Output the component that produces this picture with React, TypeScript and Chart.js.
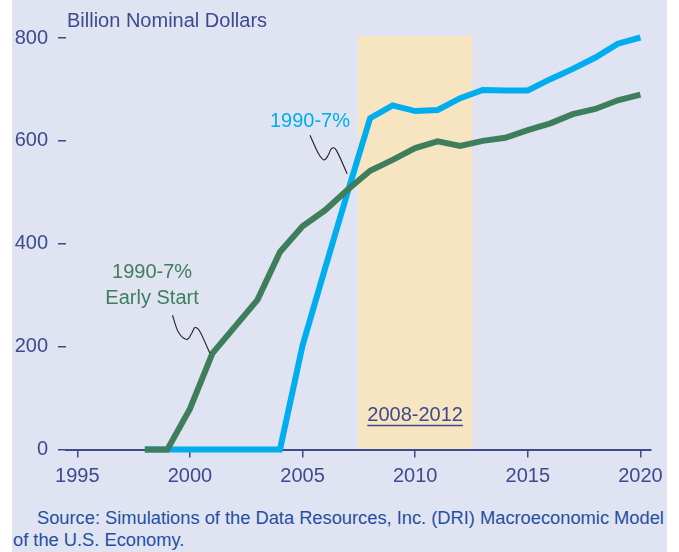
import React, { useEffect, useRef } from "react";
import { Chart, registerables } from "chart.js";

Chart.register(...registerables);

// ---- data ----
const years = [1998, 1999, 2000, 2001, 2002, 2003, 2004, 2005, 2006, 2007, 2008, 2009, 2010, 2011, 2012, 2013, 2014, 2015, 2016, 2017, 2018, 2019, 2020];
const onTime = [0, 0, 0, 0, 0, 0, 0, 202, 352, 500, 644, 669, 658, 660, 683, 699, 698, 698, 720, 740, 762, 789, 801];
const earlyStart = [0, 0, 79, 187, 239, 291, 384, 434, 465, 505, 542, 563, 586, 599, 590, 600, 606, 621, 634, 652, 662, 679, 690];
const xTicks = [1995, 2000, 2005, 2010, 2015, 2020];
const yTicks = [0, 200, 400, 600, 800];
const bandStart = 2007.47;
const bandEnd = 2012.53;
const bandTop = 804;
const bandLabel = "2008-2012";
const yTitle = "Billion Nominal Dollars";
const onTimeLabel = ["1990-7%"];
const earlyLabel = ["1990-7%", "Early Start"];
const onTimeNote = [[2005.33, 611], [2005.7, 576], [2005.95, 563], [2006.14, 572], [2006.29, 585], [2006.51, 581], [2006.98, 536]];
const earlyNote = [[1999.23, 261], [1999.48, 229], [1999.86, 214], [2000.08, 226], [2000.22, 237], [2000.45, 229], [2000.89, 187]];
const onTimeLabelAt = [2005.33, 638];
const earlyLabelAt = [1998.32, 345];
const bandLabelAt = [2010, 67];
const sourceLines = [
  "Source: Simulations of the Data Resources, Inc. (DRI) Macroeconomic Model",
  "of the U.S. Economy.",
];

const BLUE = "#00adef";
const GREEN = "#3e7e5d";
const NAVY = "#3d4a8e";
const BAND = "#f6e5c0";
const BG = "#e0e3f1";
const SRC = "#1f50a2";
const FONT = '"Liberation Sans", Arial, sans-serif';

function smoothPath(ctx: CanvasRenderingContext2D, pts: number[][]) {
  ctx.moveTo(pts[0][0], pts[0][1]);
  for (let i = 0; i < pts.length - 1; i++) {
    const p0 = pts[Math.max(0, i - 1)];
    const p1 = pts[i];
    const p2 = pts[i + 1];
    const p3 = pts[Math.min(pts.length - 1, i + 2)];
    const c1x = p1[0] + (p2[0] - p0[0]) / 6;
    const c1y = p1[1] + (p2[1] - p0[1]) / 6;
    const c2x = p2[0] - (p3[0] - p1[0]) / 6;
    const c2y = p2[1] - (p3[1] - p1[1]) / 6;
    ctx.bezierCurveTo(c1x, c1y, c2x, c2y, p2[0], p2[1]);
  }
}

const annotPlugin = {
  id: "annot",
  beforeDraw(chart: any) {
    const { ctx, scales } = chart;
    const x = scales.x, y = scales.y;
    ctx.save();
    ctx.fillStyle = BAND;
    const l = x.getPixelForValue(bandStart);
    const r = x.getPixelForValue(bandEnd);
    const t = y.getPixelForValue(bandTop);
    const b = y.getPixelForValue(0);
    ctx.fillRect(l, t, r - l, b - t);
    ctx.restore();
  },
  afterDatasetsDraw(chart: any) {
    const { ctx, scales } = chart;
    const x = scales.x, y = scales.y;
    const px = (p: number[]) => [x.getPixelForValue(p[0]), y.getPixelForValue(p[1])];
    ctx.save();
    ctx.strokeStyle = "#222";
    ctx.lineWidth = 1.1;
    for (const note of [onTimeNote, earlyNote]) {
      ctx.beginPath();
      smoothPath(ctx, note.map(px));
      ctx.stroke();
    }
    ctx.font = `20px ${FONT}`;
    ctx.textAlign = "center";
    ctx.textBaseline = "middle";
    ctx.fillStyle = BLUE;
    const a = px(onTimeLabelAt);
    onTimeLabel.forEach((s, i) => ctx.fillText(s, a[0], a[1] + i * 26));
    ctx.fillStyle = GREEN;
    const g = px(earlyLabelAt);
    earlyLabel.forEach((s, i) => ctx.fillText(s, g[0], g[1] + i * 26));
    // band label with underline
    ctx.fillStyle = NAVY;
    const bl = px(bandLabelAt);
    ctx.fillText(bandLabel, bl[0], bl[1]);
    const w = ctx.measureText(bandLabel).width;
    ctx.strokeStyle = NAVY;
    ctx.lineWidth = 1.5;
    ctx.beginPath();
    ctx.moveTo(bl[0] - w / 2, bl[1] + 10.5);
    ctx.lineTo(bl[0] + w / 2, bl[1] + 10.5);
    ctx.stroke();
    ctx.restore();
  },
};

export default function App() {
  const ref = useRef<HTMLCanvasElement>(null);
  useEffect(() => {
    const chart = new Chart(ref.current as HTMLCanvasElement, {
      type: "line",
      data: {
        datasets: [
          {
            label: "1990-7%",
            data: years.map((yr, i) => ({ x: yr, y: onTime[i] })),
            borderColor: BLUE,
            backgroundColor: BLUE,
            borderWidth: 6,
            pointRadius: 0,
            tension: 0,
            order: 1,
            clip: false,
          },
          {
            label: "1990-7% Early Start",
            data: years.map((yr, i) => ({ x: yr, y: earlyStart[i] })),
            borderColor: GREEN,
            backgroundColor: GREEN,
            borderWidth: 6,
            pointRadius: 0,
            tension: 0,
            order: 0,
            clip: false,
          },
        ],
      },
      options: {
        responsive: false,
        animation: false,
        layout: { padding: { top: 38, right: 28, left: 0, bottom: 0 } },
        plugins: { legend: { display: false }, tooltip: { enabled: false }, title: { display: false } },
        scales: {
          x: {
            type: "linear",
            min: 1994.5,
            max: 2020.47,
            afterBuildTicks: (s: any) => { s.ticks = xTicks.map((v) => ({ value: v })); },
            afterFit: (s: any) => { s.height = 50.5; },
            ticks: { color: NAVY, font: { family: FONT, size: 20 }, padding: 7, callback: (v: any) => String(v), maxRotation: 0, autoSkip: false },
            grid: { display: true, drawOnChartArea: false, drawTicks: true, tickLength: 8, color: NAVY, lineWidth: 1.5 },
            border: { display: true, color: NAVY, width: 2 },
          },
          y: {
            type: "linear",
            min: 0,
            max: 800,
            afterBuildTicks: (s: any) => { s.ticks = yTicks.map((v) => ({ value: v })); },
            afterFit: (s: any) => { s.width = 66; },
            ticks: { color: NAVY, font: { family: FONT, size: 20 }, padding: 10 },
            grid: { display: true, drawOnChartArea: false, drawTicks: true, tickLength: 8, color: NAVY, lineWidth: 1.5 },
            border: { display: false },
          },
        },
      },
      plugins: [annotPlugin],
    } as any);
    return () => chart.destroy();
  }, []);

  return (
    <div style={{ position: "absolute", left: 0, top: 0, width: 679, height: 552, background: "#fff", overflow: "hidden" }}>
      <div style={{ position: "absolute", left: 12, top: 0, width: 655, height: 552, background: BG }} />
      <canvas ref={ref} width={679} height={500} style={{ position: "absolute", left: 0, top: 0, width: 679, height: 500 }} />
      <div style={{ position: "absolute", left: 67, top: 8, fontFamily: FONT, fontSize: 20, lineHeight: "24px", color: NAVY, whiteSpace: "nowrap" }}>
        {yTitle}
      </div>
      <div style={{ position: "absolute", left: 13, top: 507, fontFamily: FONT, fontSize: 18.3, lineHeight: "22px", color: SRC, whiteSpace: "nowrap" }}>
        <div style={{ paddingLeft: 24 }}>{sourceLines[0]}</div>
        <div>{sourceLines[1]}</div>
      </div>
    </div>
  );
}
